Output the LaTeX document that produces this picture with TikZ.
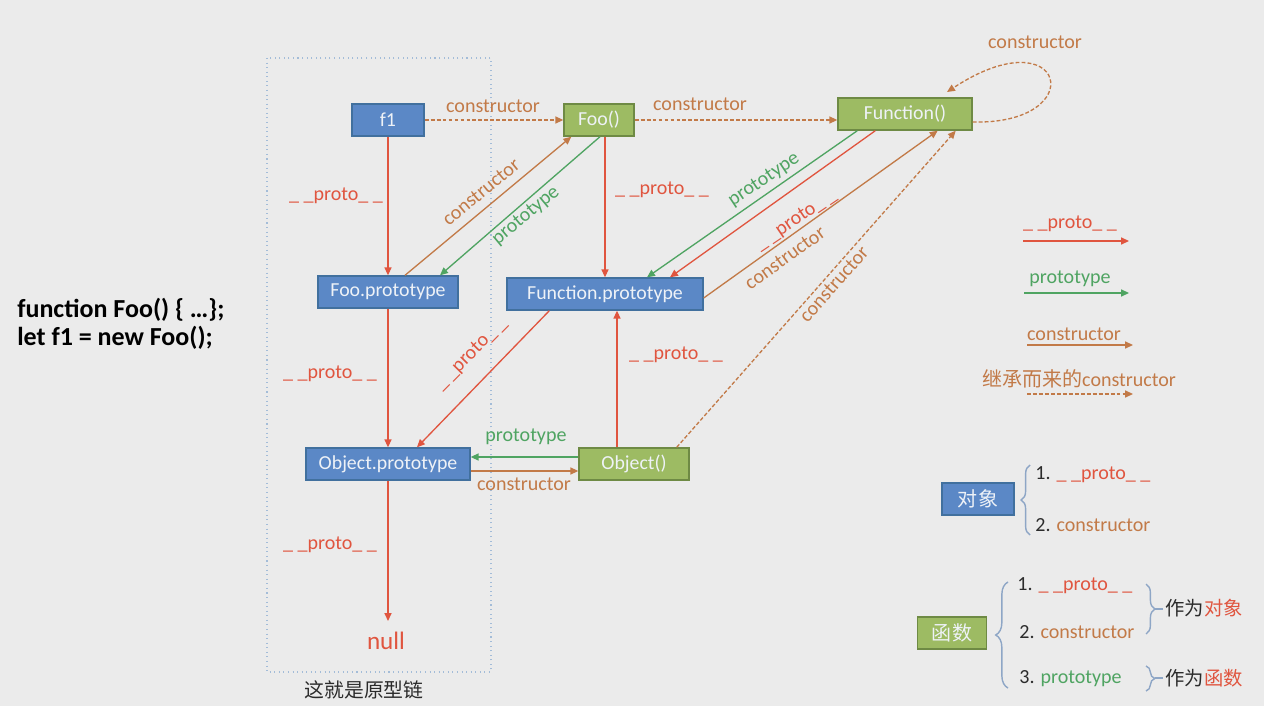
\documentclass[tikz,border=0pt]{standalone}
\usepackage{fontspec}
\setmainfont{Carlito}
\newfontfamily\cjk{Noto Sans CJK SC}
\usetikzlibrary{arrows.meta,calc,decorations.pathreplacing}
\definecolor{bg}{HTML}{EBEBEB}
\definecolor{cred}{HTML}{E0553F}
\definecolor{cgreen}{HTML}{4FA462}
\definecolor{cbrown}{HTML}{C27A48}
\definecolor{bfill}{HTML}{5B88C6}
\definecolor{bdraw}{HTML}{41709E}
\definecolor{gfill}{HTML}{9DBB63}
\definecolor{gdraw}{HTML}{6E8A44}
\definecolor{framec}{HTML}{A3BCD8}
\definecolor{brc}{HTML}{8EA6C6}
\definecolor{txt}{HTML}{2B2B2B}
\definecolor{boxtxt}{HTML}{EEF2F7}
\begin{document}
\begin{tikzpicture}[x=0.02cm,y=-0.02cm,
  lbl/.style={font=\fontsize{11.4}{13}\selectfont, inner sep=0pt},
  box/.style={line width=0.8pt, minimum height=0.64cm, inner sep=0pt, text=boxtxt, font=\fontsize{11.3}{13}\selectfont},
  bbox/.style={box, draw=bdraw, fill=bfill},
  gbox/.style={box, draw=gdraw, fill=gfill},
  ar/.style={line width=0.75pt, -{Triangle[length=4.5pt,width=4pt]}},
  inh/.style={ar, dash pattern=on 2.2pt off 1.2pt},
  brace/.style={draw=brc, line width=0.8pt, decorate, decoration={brace, amplitude=5pt}}
]
\fill[bg] (0,0) rectangle (1264,706);
\useasboundingbox (0,0) rectangle (1264,706);

% frame
\draw[framec, dotted, line width=0.6pt] (267,58) rectangle (491,672);
\node[lbl, text=txt, font=\cjk\fontsize{11.3}{13}\selectfont] (cap) at (364,690) {这就是原型链};

% code
\node[anchor=west, inner sep=0pt, text=black, font=\bfseries\fontsize{14.8}{17}\selectfont] (code1) at (17,310) {function Foo() \{ …\};};
\node[anchor=west, inner sep=0pt, text=black, font=\bfseries\fontsize{14.8}{17}\selectfont] (code2) at (17,338) {let f1 = new Foo();};

% nodes
\node[bbox, minimum width=1.44cm] (f1) at (388,120) {f1};
\node[gbox, minimum width=1.4cm] (foo) at (599,120) {Foo()};
\node[gbox, minimum width=2.68cm] (fn) at (905,114) {Function()};
\node[bbox, minimum width=2.8cm] (foop) at (388,292) {Foo.prototype};
\node[bbox, minimum width=3.92cm] (fnp) at (605,294) {Function.prototype};
\node[bbox, minimum width=3.28cm] (objp) at (388,464) {Object.prototype};
\node[gbox, minimum width=2.2cm] (obj) at (634,464) {Object()};
\node[lbl, text=cred, font=\fontsize{14.3}{16}\selectfont] (null) at (386,641) {null};
\coordinate (nulltop) at (388,621);

% edges
\draw[inh, cbrown] (f1.east) -- (foo.west);
\node[lbl, text=cbrown] (l1) at (493,106) {constructor};
\draw[inh, cbrown] (foo.east) -- (fn.west |- foo.east);
\node[lbl, text=cbrown] (l2) at (700,104) {constructor};
\draw[inh, cbrown] ($(fn.east)+(0,8)$) .. controls (1092,125) and (1066,14) .. (947,92);
\node[lbl, text=cbrown] (l3) at (1035,42) {constructor};

\draw[ar, cred] (f1.south) -- (foop.north);
\node[lbl, text=cred] (l4) at (336,196) {\_ \_proto\_ \_};
\draw[ar, cbrown] ($(foop.north)+(17,0)$) -- ($(foo.south west)+(8,0)$);
\node[lbl, text=cbrown, rotate=39.4] (l5) at (481,192) {constructor};
\draw[ar, cgreen] ($(foo.south)+(1,0)$) -- ($(foop.north)+(52,0)$);
\node[lbl, text=cgreen, rotate=39.7] (l6) at (526,216) {prototype};
\draw[ar, cred] (foo.south -| fnp.north) -- (fnp.north);
\node[lbl, text=cred] (l7) at (662,190) {\_ \_proto\_ \_};

\draw[ar, cgreen] ($(fn.south west)+(20,0)$) -- ($(fnp.north)+(42,0)$);
\node[lbl, text=cgreen, rotate=33.7] (l8) at (764,180) {prototype};
\draw[ar, cred] ($(fn.south west)+(38,0)$) -- ($(fnp.north)+(65,0)$);
\node[lbl, text=cred, rotate=34] (l9) at (796,220) {\_ \_proto\_ \_};
\draw[ar, cbrown] ($(fnp.east)+(0,4)$) -- ($(fn.south east)+(-35,0)$);
\node[lbl, text=cbrown, rotate=35.5] (l10) at (785,258) {constructor};
\draw[inh, cbrown] ($(obj.north east)+(-13,0)$) -- ($(fn.south east)+(-17,0)$);
\node[lbl, text=cbrown, rotate=48.6] (l11) at (834,284) {constructor};

\draw[ar, cred] (foop.south) -- (objp.north);
\node[lbl, text=cred] (l12) at (330,374) {\_ \_proto\_ \_};
\draw[ar, cred] ($(fnp.south west)+(43,0)$) -- ($(objp.north)+(29,0)$);
\node[lbl, text=cred, rotate=45.4] (l13) at (471,354) {\_ \_proto\_ \_};
\draw[ar, cred] ($(obj.north)+(-17,0)$) -- ($(fnp.south)+(12,0)$);
\node[lbl, text=cred] (l14) at (676,355) {\_ \_proto\_ \_};
\draw[ar, cgreen] ($(obj.west)+(0,-7)$) -- ($(objp.east)+(0,-7)$);
\node[lbl, text=cgreen] (l15) at (526,437) {prototype};
\draw[ar, cbrown] ($(objp.east)+(0,7)$) -- ($(obj.west)+(0,7)$);
\node[lbl, text=cbrown] (l16) at (524,484) {constructor};
\draw[ar, cred] (objp.south) -- (nulltop);
\node[lbl, text=cred] (l17) at (330,545) {\_ \_proto\_ \_};

% legend
\node[lbl, text=cred] (g1) at (1070,224) {\_ \_proto\_ \_};
\coordinate (g1a) at (1023,241); \coordinate (g1b) at (1129,241);
\draw[ar, cred] (g1a) -- (g1b);
\node[lbl, text=cgreen] (g2) at (1070,279) {prototype};
\coordinate (g2a) at (1024,293); \coordinate (g2b) at (1129,293);
\draw[ar, cgreen] (g2a) -- (g2b);
\node[lbl, text=cbrown] (g3) at (1074,334) {constructor};
\coordinate (g3a) at (1027,345); \coordinate (g3b) at (1133,345);
\draw[ar, cbrown] (g3a) -- (g3b);
\node[lbl, text=cbrown] (g4) at (1079,379) {{\cjk 继承而来的}constructor};
\coordinate (g4a) at (1027,394); \coordinate (g4b) at (1133,394);
\draw[inh, cbrown] (g4a) -- (g4b);

% object / function boxes
\node[bbox, minimum width=1.44cm, font=\cjk\fontsize{11.4}{13}\selectfont] (dx) at (978,499) {对象};
\draw[brace] (1030,535) -- (1030,465);
\node[lbl, anchor=west] (d1) at (1035,475) {\textcolor{txt}{1.} \textcolor{cred}{\_ \_proto\_ \_}};
\node[lbl, anchor=west] (d2) at (1035,525) {\textcolor{txt}{2.} \textcolor{cbrown}{constructor}};

\node[gbox, minimum width=1.38cm, font=\cjk\fontsize{11.4}{13}\selectfont] (hs) at (952,633) {函数};
\draw[brace, decoration={brace, amplitude=7pt}] (1008,688) -- (1008,582);
\node[lbl, anchor=west] (h1) at (1017,586) {\textcolor{txt}{1.} \textcolor{cred}{\_ \_proto\_ \_}};
\node[lbl, anchor=west] (h2) at (1019,632) {\textcolor{txt}{2.} \textcolor{cbrown}{constructor}};
\node[lbl, anchor=west] (h3) at (1019,679) {\textcolor{txt}{3.} \textcolor{cgreen}{prototype}};
\draw[brace] (1146,584) -- (1146,634);
\draw[brc, line width=0.8pt] (1155,609) -- (1163,609);
\node[lbl, anchor=west, font=\cjk\fontsize{11}{13}\selectfont] (z1) at (1165,608) {\textcolor{txt}{作为}\textcolor{cred}{对象}};
\draw[brace] (1146,666) -- (1146,691);
\draw[brc, line width=0.8pt] (1155,678) -- (1163,678);
\node[lbl, anchor=west, font=\cjk\fontsize{11}{13}\selectfont] (z2) at (1165,678) {\textcolor{txt}{作为}\textcolor{cred}{函数}};
\end{tikzpicture}
\end{document}
